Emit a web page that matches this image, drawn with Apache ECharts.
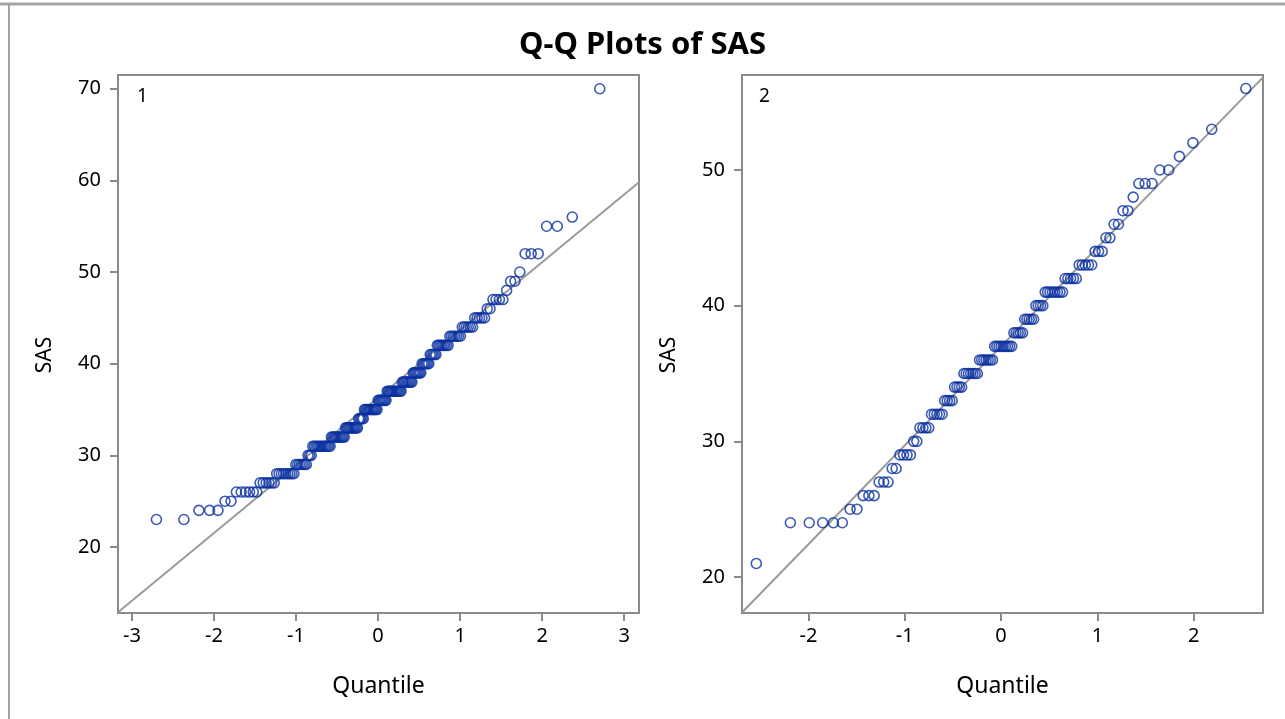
<!DOCTYPE html>
<html>
<head>
<meta charset="utf-8">
<script src="https://cdn.jsdelivr.net/npm/echarts@6/dist/echarts.min.js"></script>
<style>
  html, body { margin: 0; padding: 0; background: #ffffff; }
  #chart { width: 1285px; height: 719px; }
</style>
</head>
<body>
<div id="chart"></div>
<script>
// Group 1: distinct SAS scores and the number of subjects with each score
const sasScores1 = [23, 24, 25, 26, 27, 28, 29, 30, 31, 32, 33, 34, 35, 36, 37, 38, 39, 40, 41, 42, 43, 44, 45, 46, 47, 48, 49, 50, 52, 55, 56, 70];
const sasCounts1 = [2, 3, 2, 6, 6, 9, 7, 3, 13, 11, 11, 5, 12, 8, 13, 9, 7, 6, 5, 8, 7, 6, 5, 2, 4, 1, 2, 1, 3, 2, 1, 1];

// Group 2: distinct SAS scores and the number of subjects with each score
const sasScores2 = [21, 24, 25, 26, 27, 28, 29, 30, 31, 32, 33, 34, 35, 36, 37, 38, 39, 40, 41, 42, 43, 44, 45, 46, 47, 48, 49, 50, 51, 52, 53, 56];
const sasCounts2 = [1, 5, 2, 3, 3, 2, 4, 2, 4, 5, 4, 4, 7, 7, 9, 5, 5, 4, 8, 5, 5, 3, 2, 2, 2, 1, 3, 2, 1, 1, 1, 1];

// Normal reference lines (location, scale) for each group
const refMu1 = 36.3, refSigma1 = 7.39;
const refMu2 = 37.0, refSigma2 = 7.29;

// Tick labels
const xTicks1 = [-3, -2, -1, 0, 1, 2, 3];
const yTicks1 = [20, 30, 40, 50, 60, 70];
const xTicks2 = [-2, -1, 0, 1, 2];
const yTicks2 = [20, 30, 40, 50];

// Axis extents
const xRange1 = [-3.17, 3.18], yRange1 = [12.8, 71.5];
const xRange2 = [-2.69, 2.72], yRange2 = [17.35, 57.0];

// Inverse standard normal CDF (Acklam's rational approximation)
function normInv(p) {
  const a = [-3.969683028665376e+01, 2.209460984245205e+02, -2.759285104469687e+02, 1.383577518672690e+02, -3.066479806614716e+01, 2.506628277459239e+00];
  const b = [-5.447609879822406e+01, 1.615858368580409e+02, -1.556989798598866e+02, 6.680131188771972e+01, -1.328068155288572e+01];
  const c = [-7.784894002430293e-03, -3.223964580411365e-01, -2.400758277161838e+00, -2.549732539343734e+00, 4.374664141464968e+00, 2.938163982698783e+00];
  const d = [7.784695709041462e-03, 3.224671290700398e-01, 2.445134137142996e+00, 3.754408661907416e+00];
  const pl = 0.02425, ph = 1 - pl;
  let q, r;
  if (p < pl) {
    q = Math.sqrt(-2 * Math.log(p));
    return (((((c[0] * q + c[1]) * q + c[2]) * q + c[3]) * q + c[4]) * q + c[5]) /
           ((((d[0] * q + d[1]) * q + d[2]) * q + d[3]) * q + 1);
  }
  if (p <= ph) {
    q = p - 0.5; r = q * q;
    return (((((a[0] * r + a[1]) * r + a[2]) * r + a[3]) * r + a[4]) * r + a[5]) * q /
           (((((b[0] * r + b[1]) * r + b[2]) * r + b[3]) * r + b[4]) * r + 1);
  }
  q = Math.sqrt(-2 * Math.log(1 - p));
  return -(((((c[0] * q + c[1]) * q + c[2]) * q + c[3]) * q + c[4]) * q + c[5]) /
          ((((d[0] * q + d[1]) * q + d[2]) * q + d[3]) * q + 1);
}

// Sorted sample -> (normal quantile, observed value) pairs using Blom scores
function qqPoints(scores, counts) {
  const sorted = [];
  scores.forEach((v, k) => { for (let j = 0; j < counts[k]; j++) sorted.push(v); });
  const n = sorted.length;
  return sorted.map((v, i) => [normInv((i + 1 - 0.375) / (n + 0.25)), v]);
}

const pts1 = qqPoints(sasScores1, sasCounts1);
const pts2 = qqPoints(sasScores2, sasCounts2);
const line1 = xRange1.map(x => [x, refMu1 + refSigma1 * x]);
const line2 = xRange2.map(x => [x, refMu2 + refSigma2 * x]);

const FONT = 'Noto Sans';
const AXIS_GRAY = '#8a8a8a';
const MARK_BLUE = '#0a31a0';

function xAxisCfg(gridIndex, range, ticks) {
  return {
    type: 'value', gridIndex, min: range[0], max: range[1], position: 'bottom',
    name: 'Quantile', nameLocation: 'middle', nameGap: 62,
    nameTextStyle: { fontFamily: FONT, fontSize: 23, color: '#000' },
    axisLine: { show: true, onZero: false, lineStyle: { color: AXIS_GRAY, width: 2 } },
    axisTick: { show: true, inside: false, length: 8, customValues: ticks, lineStyle: { color: AXIS_GRAY, width: 2 } },
    axisLabel: { customValues: ticks, margin: 13, fontFamily: FONT, fontSize: 20, color: '#000' },
    splitLine: { show: false }
  };
}
function yAxisCfg(gridIndex, range, ticks) {
  return {
    type: 'value', gridIndex, min: range[0], max: range[1], position: 'left',
    name: 'SAS', nameLocation: 'middle', nameGap: 62,
    nameTextStyle: { fontFamily: FONT, fontSize: 21, color: '#000', padding: [0, 22, 0, 0] },
    axisLine: { show: true, onZero: false, lineStyle: { color: AXIS_GRAY, width: 2 } },
    axisTick: { show: true, inside: false, length: 8, customValues: ticks, lineStyle: { color: AXIS_GRAY, width: 2 } },
    axisLabel: { customValues: ticks, margin: 17, fontFamily: FONT, fontSize: 20, color: '#000' },
    splitLine: { show: false }
  };
}
function scatterCfg(idx, data) {
  return {
    type: 'scatter', xAxisIndex: idx, yAxisIndex: idx, data,
    symbol: 'circle', symbolSize: 10,
    itemStyle: { color: 'rgba(0,0,0,0)', borderColor: MARK_BLUE, borderWidth: 1.6 },
    z: 3
  };
}
function refLineCfg(idx, data) {
  return {
    type: 'line', xAxisIndex: idx, yAxisIndex: idx, data,
    symbol: 'none', clip: true,
    lineStyle: { color: '#9a9a9a', width: 2 }, z: 2
  };
}

const chart = echarts.init(document.getElementById('chart'), null, { renderer: 'canvas' });
chart.setOption({
  animation: false,
  backgroundColor: '#ffffff',
  title: {
    text: 'Q-Q Plots of SAS', left: 'center', top: 25, padding: [5, 0, 5, 12],
    textStyle: { fontFamily: FONT, fontSize: 31, fontWeight: 'bold', color: '#000' }
  },
  grid: [
    { left: 118, top: 75, width: 521, height: 538, show: true, borderColor: AXIS_GRAY, borderWidth: 2 },
    { left: 742, top: 75, width: 521, height: 538, show: true, borderColor: AXIS_GRAY, borderWidth: 2 }
  ],
  xAxis: [xAxisCfg(0, xRange1, xTicks1), xAxisCfg(1, xRange2, xTicks2)],
  yAxis: [yAxisCfg(0, yRange1, yTicks1), yAxisCfg(1, yRange2, yTicks2)],
  series: [refLineCfg(0, line1), scatterCfg(0, pts1), refLineCfg(1, line2), scatterCfg(1, pts2)],
  graphic: [
    { type: 'line', shape: { x1: 0, y1: 4, x2: 1285, y2: 4 }, style: { stroke: '#a3a3a3', lineWidth: 3 } },
    { type: 'line', shape: { x1: 9, y1: 4, x2: 9, y2: 719 }, style: { stroke: '#a3a3a3', lineWidth: 2 } },
    { type: 'text', left: 137, top: 87, style: { text: '1', fontFamily: FONT, fontSize: 19, fill: '#000' } },
    { type: 'text', left: 759, top: 87, style: { text: '2', fontFamily: FONT, fontSize: 19, fill: '#000' } }
  ]
});
</script>
</body>
</html>
